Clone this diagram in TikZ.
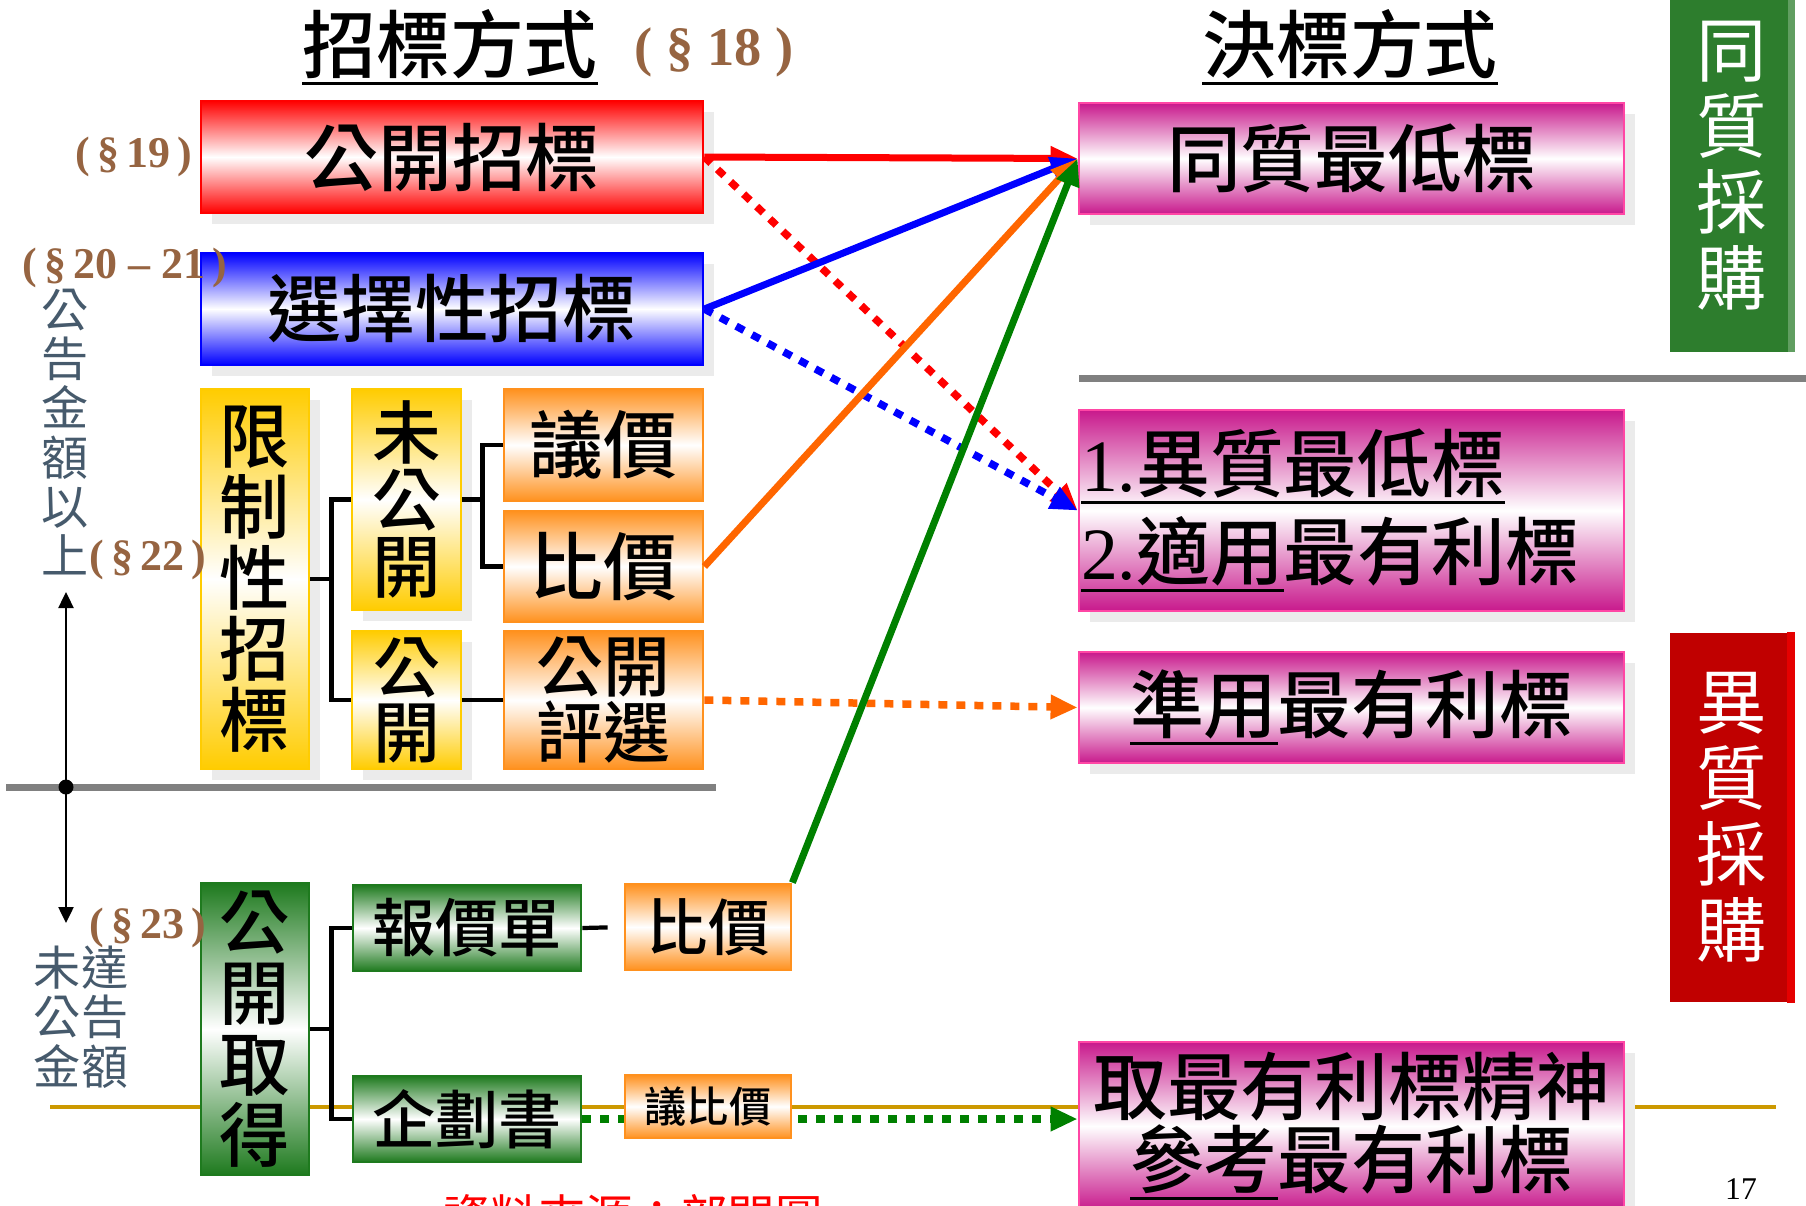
\documentclass[tikz,border=0pt]{standalone}
\usepackage{fontspec}
\setmainfont{Liberation Serif}
\newfontfamily\cjk{Noto Sans CJK TC}[BoldFont={Noto Sans CJK TC Medium}]
\newcommand{\cjkbf}{\cjk\bfseries}
\newcommand{\uln}[1]{\leavevmode\vtop{\hbox{#1}\kern0.8pt\hrule height 0.9pt}}
\usetikzlibrary{arrows.meta,shadows,backgrounds,positioning}

\definecolor{boxred}{RGB}{255,0,0}
\definecolor{boxblue}{RGB}{0,0,255}
\definecolor{boxyellow}{RGB}{255,204,0}
\definecolor{boxorange}{RGB}{255,145,30}
\definecolor{boxgreen}{RGB}{30,122,30}
\definecolor{boxmag}{RGB}{200,25,140}
\definecolor{magedge}{RGB}{255,70,165}
\definecolor{tagred}{RGB}{192,0,0}
\definecolor{taggreen}{RGB}{45,125,45}
\definecolor{secbrown}{RGB}{150,100,65}
\definecolor{slate}{RGB}{70,90,108}
\definecolor{arrorange}{RGB}{255,102,0}
\definecolor{arrgreen}{RGB}{0,128,0}
\definecolor{goldline}{RGB}{204,153,0}

\begin{document}
\begin{tikzpicture}[x=0.1mm,y=-0.1mm,>={Triangle[length=2.7mm,width=2.3mm]},
  shbox/.style={drop shadow={shadow xshift=1.1mm,shadow yshift=-1.1mm,fill=black!8,opacity=1}},
  fillbox/.style={rectangle, inner sep=0.2mm, align=center, line width=0.8pt,
    draw=#1, top color=#1, bottom color=#1, middle color=white},
  bigtext/.style={font=\cjkbf\fontsize{21}{22}\selectfont},
  magbox/.style={fillbox=boxmag, draw=magedge, shbox, bigtext,
    minimum width=54.5mm, minimum height=11.1mm},
  tagbox/.style={rectangle, inner sep=0, text=white, align=center,
    minimum width=12.4mm, font=\cjk\fontsize{20}{21.6}\selectfont},
  seclabel/.style={inner sep=0, text=secbrown, font=\bfseries\fontsize{12.5}{13}\selectfont},
  sidetext/.style={inner sep=0, text=slate, align=center, font=\cjk\fontsize{13.4}{14}\selectfont},
  link/.style={-, line width=1.2pt, black},
  thickarr/.style={->, line width=0.7mm},
  dotarr/.style={->, line width=0.75mm, dash pattern=on 0.9mm off 0.9mm},
  sepline/.style={line width=0.7mm, black!50}]
\useasboundingbox (0,0) rectangle (1806,1205);
\clip (0,0) rectangle (1806,1205);

% titles
\node (ztitle) [bigtext, inner sep=0] at (450,47) {\uln{招標方式}};
\node (s18) [seclabel, font=\bfseries\fontsize{15.5}{16}\selectfont] at (714,52) {( § 18 )};
\node (jtitle) [bigtext, inner sep=0] at (1350,47) {\uln{決標方式}};

% 招標方式
\node (gk) [fillbox=boxred, shbox, bigtext, minimum width=50.2mm, minimum height=11.2mm] at (452,157) {公開招標};
\node (xz) [fillbox=boxblue, shbox, bigtext, minimum width=50.2mm, minimum height=11.2mm] at (452,309) {選擇性招標};
\node (xzx) [fillbox=boxyellow, shbox, minimum width=10.8mm, minimum height=38mm,
  font=\cjkbf\fontsize{20}{20.2}\selectfont] at (255,579) {限\\制\\性\\招\\標};
\node (wgk) [fillbox=boxyellow, shbox, minimum width=10.9mm, minimum height=22.1mm,
  font=\cjkbf\fontsize{19.5}{19}\selectfont] at (406.5,499.5) {未\\公\\開};
\node (gkai) [fillbox=boxyellow, shbox, minimum width=10.9mm, minimum height=13.8mm,
  font=\cjkbf\fontsize{19}{18.5}\selectfont] at (406.5,700) {公\\開};
\node (yj) [fillbox=boxorange, bigtext, minimum width=19.9mm, minimum height=11.2mm] at (603.5,445) {議價};
\node (bj) [fillbox=boxorange, bigtext, minimum width=19.9mm, minimum height=11.1mm] at (603.5,566.5) {比價};
\node (gkpx) [fillbox=boxorange, minimum width=19.9mm, minimum height=13.8mm,
  font=\cjkbf\fontsize{19}{17.6}\selectfont] at (603.5,700) {公開\\評選};

\node (gkqd) [fillbox=boxgreen, minimum width=10.8mm, minimum height=29.2mm,
  font=\cjkbf\fontsize{20}{20.2}\selectfont] at (255,1029) {公\\開\\取\\得};
\node (bjd) [fillbox=boxgreen, minimum width=22.8mm, minimum height=8.6mm,
  font=\cjkbf\fontsize{18}{19}\selectfont] at (467,928) {報價單};
\node (qhs) [fillbox=boxgreen, minimum width=22.8mm, minimum height=8.6mm,
  font=\cjkbf\fontsize{18}{19}\selectfont] at (467,1119) {企劃書};
\node (bj2) [fillbox=boxorange, minimum width=16.6mm, minimum height=8.6mm,
  font=\cjkbf\fontsize{17.5}{18}\selectfont] at (708,927) {比價};
\node (ybj) [fillbox=boxorange, minimum width=16.6mm, minimum height=6.3mm,
  font=\cjkbf\fontsize{12}{13}\selectfont] at (708,1106.5) {議比價};

% 決標方式
\node (tz) [magbox] at (1351.5,158.5) {同質最低標};
\node (yz) [magbox, minimum height=20.1mm, align=left, text width=54.1mm,
  font=\cjkbf\fontsize{21}{25}\selectfont] at (1351.5,510.5)
  {\uln{{\rmfamily\mdseries 1.}異質最低標}\\\uln{{\rmfamily\mdseries 2.}適用}最有利標};
\node (zy) [magbox] at (1351.5,707.5) {\uln{準用}最有利標};
\node (qz) [magbox, minimum height=16.8mm, font=\cjkbf\fontsize{21}{20.8}\selectfont]
  at (1351.5,1126) {取最有利標精神\\\uln{參考}最有利標};

\node (tzcg) [tagbox, fill=taggreen, minimum height=37.1mm] at (1732,166) {同\\質\\採\\購};
\node (yzcg) [tagbox, fill=tagred, minimum height=36.9mm] at (1732,817.5) {異\\質\\採\\購};
\fill [taggreen!75!white] ([xshift=-0.7mm]tzcg.north east) rectangle (tzcg.south east);
\fill [red!90!black] ([xshift=-0.8mm]yzcg.north east) rectangle (yzcg.south east);

% side labels
\node (s19) [seclabel] at (134,157) {(\,§\,19\,)};
\node (s2021) [seclabel] at (125,268) {(\,§\,20 -- 21\,)};
\node (s22) [seclabel] at (148,560) {(\,§\,22\,)};
\node (s23) [seclabel] at (148,928) {(\,§\,23\,)};
\node (above) [sidetext] at (65,432) {公\\告\\金\\額\\以\\上};
\node (below) [sidetext] at (81,1017) {未達\\公告\\金額};

\draw [sepline] (6,787) -- (716,787);
\draw [sepline] (1079,378) -- (1806,378);
\coordinate (mid) at (66,787);
\coordinate (upper) at (66,592);
\coordinate (lower) at (66,923);
\fill (mid) circle (0.75mm);
\draw [-{Triangle[length=1.6mm,width=1.5mm]}, line width=0.7pt] (mid) -- (upper);
\draw [-{Triangle[length=1.6mm,width=1.5mm]}, line width=0.7pt] (mid) -- (lower);

% tree links
\draw [link] (xzx.east) -- ++(2.1mm,0) |- (wgk.west);
\draw [link] (xzx.east) -- ++(2.1mm,0) |- (gkai.west);
\draw [link] (wgk.east) -- ++(2mm,0) |- (yj.west);
\draw [link] (wgk.east) -- ++(2mm,0) |- (bj.west);
\draw [link] (gkai.east) -- (gkpx.west);
\draw [link] (gkqd.east) -- ++(2.1mm,0) |- (bjd.west);
\draw [link] (gkqd.east) -- ++(2.1mm,0) |- (qhs.west);
\draw [link, shorten >=1.6mm] (bjd.east) -- (bj2.west);

% arrows to 決標方式
\draw [dotarr, boxred] (gk.east) -- (yz.west);
\draw [dotarr, boxblue] (xz.east) -- (yz.west);
\draw [dotarr, arrorange] (gkpx.east) -- (zy.west);
\draw [thickarr, boxred] (gk.east) -- (tz.west);
\draw [thickarr, boxblue] (xz.east) -- (tz.west);
\draw [thickarr, arrorange] (bj.east) -- (tz.west);
\draw [thickarr, arrgreen] (bj2.north east) -- (tz.west);

\begin{scope}[on background layer]
\draw [goldline, line width=0.4mm] (50,1107) -- (1776,1107);
\draw [dotarr, arrgreen] (qhs.east) -- (qhs.east -| qz.west);
\end{scope}

\node (pg) [font=\fontsize{9}{9}\selectfont] at (1741,1189) {17};
\node (src) [text=red, font=\cjk\fontsize{13.5}{14}\selectfont] at (633,1216) {資料來源：部門圖};
\end{tikzpicture}
\end{document}
